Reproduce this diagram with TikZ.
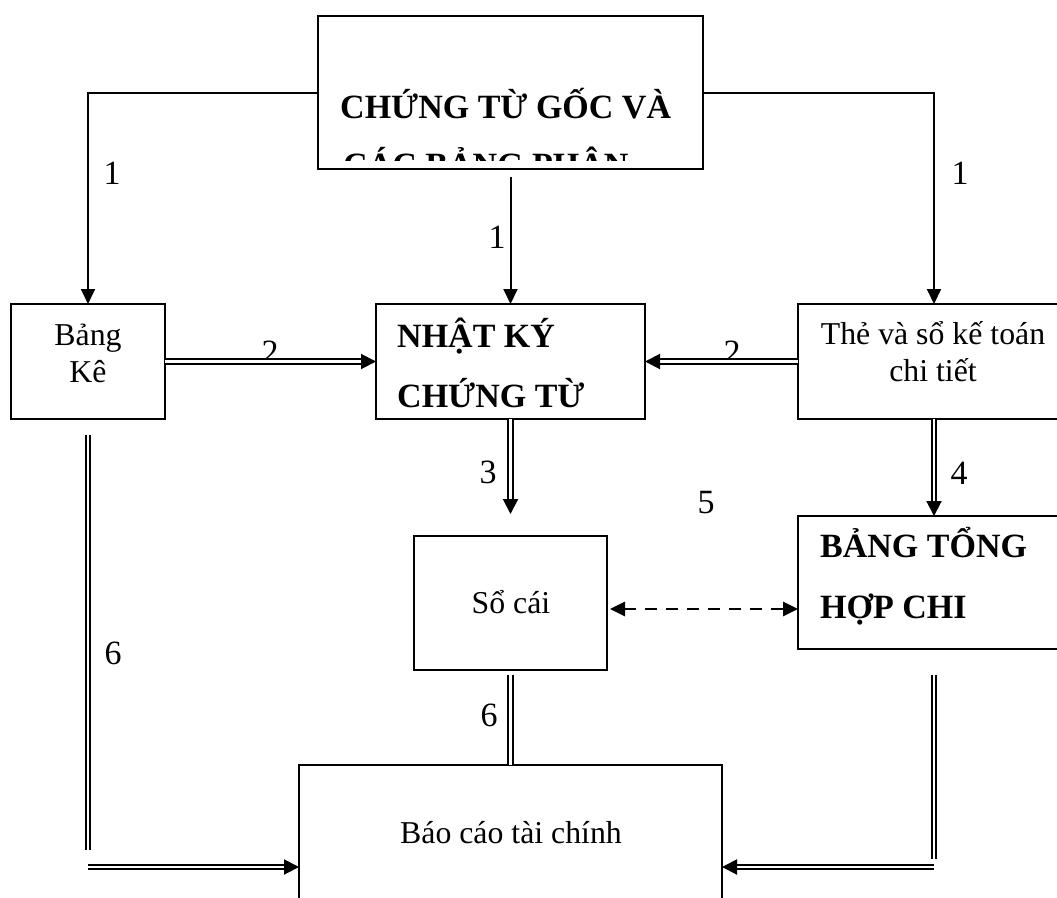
\documentclass[tikz,border=0pt]{standalone}
\usepackage{fontspec}
\setmainfont{Liberation Serif}
\usetikzlibrary{arrows.meta}
\begin{document}
\begin{tikzpicture}[x=1pt,y=-1pt,
 box/.style={draw, line width=2pt, anchor=north west, inner sep=0pt, outer sep=0pt},
 txt/.style={inner sep=0pt, font=\fontsize{31.8}{37}\selectfont},
 btxt/.style={inner sep=0pt, font=\fontsize{34}{40}\selectfont\bfseries},
 num/.style={inner sep=0pt, font=\fontsize{34}{40}\selectfont},
 sline/.style={line width=2pt, -{Triangle[length=15pt,width=14pt]}},
 dbl/.style={double, line width=2pt, double distance=2.4pt},
 dblarr/.style={dbl, -{Triangle[length=15pt,width=15pt]}},
 dasharr/.style={line width=2.8pt, dash pattern=on 12pt off 9pt, {Triangle[length=15pt,width=14pt]}-{Triangle[length=15pt,width=14pt]}}
]
\useasboundingbox (0,0) rectangle (1057,897);
\clip (0,0) rectangle (1057,897);
% boxes
\node[box, minimum width=385pt, minimum height=153pt] (top) at (318,16) {};
\node[box, minimum width=154pt, minimum height=115pt] (bk) at (11,304) {};
\node[box, minimum width=269pt, minimum height=115pt] (nk) at (376,304) {};
\node[box, minimum width=272pt, minimum height=115pt] (tk) at (798,304) {};
\node[box, line width=1.7pt, minimum width=193pt, minimum height=134pt] (sc) at (414,536) {};
\node[box, minimum width=272pt, minimum height=133pt] (bth) at (798,516) {};
\node[box, line width=1.5pt, minimum width=423pt, minimum height=204pt] (bc) at (299,765) {};
% texts
\begin{scope}
\clip (318,16) rectangle (703,160);
\node[btxt, anchor=base west] (t1) at (340,118) {CHỨNG TỪ GỐC VÀ};
\node[btxt, anchor=base west] (t2) at (343,176) {CÁC BẢNG PHÂN};
\end{scope}
\node[txt, anchor=base] (bk1) at (88,345) {Bảng};
\node[txt, anchor=base] (bk2) at (88,382) {Kê};
\node[txt, anchor=base] (tk1) at (933,344) {Thẻ và sổ kế toán};
\node[txt, anchor=base] (tk2) at (933,381) {chi tiết};
\node[btxt, anchor=base west] (nk1) at (397,347) {NHẬT KÝ};
\node[btxt, anchor=base west] (nk2) at (397,407) {CHỨNG TỪ};
\node[btxt, anchor=base west] (bt1) at (820,557) {BẢNG TỔNG};
\node[btxt, anchor=base west] (bt2) at (820,618) {HỢP CHI};
\node[txt, anchor=base] (sc1) at (511,613) {Sổ cái};
\node[txt, anchor=base] (bc1) at (511,843) {Báo cáo tài chính};
% numbers
\node[num] (n1a) at (112,173) {1};
\node[num] (n1b) at (960,173) {1};
\node[num] (n1c) at (497,237) {1};
\node[num] (n2a) at (270,352) {2};
\node[num] (n2b) at (732,352) {2};
\node[num] (n3) at (488,472) {3};
\node[num] (n4) at (959,473) {4};
\node[num] (n5) at (706,503) {5};
\node[num] (n6a) at (113,653) {6};
\node[num] (n6b) at (489,715) {6};
% connectors
\draw[sline] (top.west) -| (bk.north);
\draw[sline] (top.east) -| (tk.north);
\draw[sline] ([yshift=-8pt]top.south) -- (nk.north);
\draw[dblarr] (bk.east) -- (nk.west);
\draw[dblarr] (tk.west) -- (nk.east);
\draw[dblarr] (nk.south) -- ([yshift=22pt]sc.north);
\draw[dblarr] (tk.south) -- (bth.north);
\draw[dasharr, shorten <=3pt] ([yshift=-6pt]sc.east) -- ([yshift=-6pt]sc.east -| bth.west);
\draw[dbl] ([yshift=-16pt]bk.south) -- ([yshift=17pt]bc.west -| bk.south);
\draw[dblarr] (bc.west -| bk.south) -- (bc.west);
\draw[dbl] ([yshift=-5pt]sc.south) -- (bc.north);
\draw[dbl] ([yshift=-26pt]bth.south) -- ([yshift=8pt]bc.east -| bth.south);
\draw[dblarr] (bc.east -| bth.south) -- (bc.east);
\end{tikzpicture}
\end{document}
